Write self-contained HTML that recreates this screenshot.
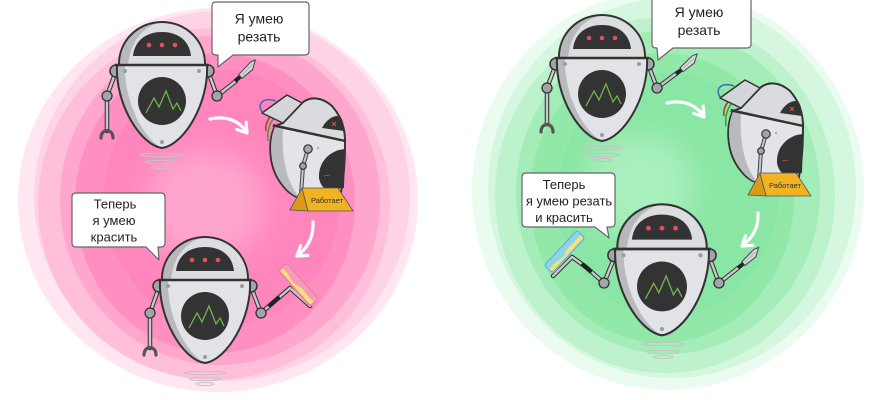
<!DOCTYPE html>
<html><head><meta charset="utf-8"><style>
html,body{margin:0;padding:0;background:#fff;}
svg{display:block;}
text{font-family:"Liberation Sans","DejaVu Sans",sans-serif;fill:#222;}
</style></head><body>
<svg width="870" height="400" viewBox="0 0 870 400" xmlns="http://www.w3.org/2000/svg">
<defs>
<filter id="blur15" x="-50%" y="-50%" width="200%" height="200%"><feGaussianBlur stdDeviation="15"/></filter>
<filter id="blur1"><feGaussianBlur stdDeviation="1"/></filter>
<g id="robot">
  <circle cx="-46" cy="6" r="6" fill="#a4a5a9" stroke="#333" stroke-width="1.5"/>
  <circle cx="46" cy="6" r="6" fill="#a4a5a9" stroke="#333" stroke-width="1.5"/>
  <path d="M-43 1 C-44 -24 -24 -43 0 -43 C24 -43 44 -24 43 1 Z" fill="#dcdde0"/>
  <path d="M-43 1 C-44 -24 -24 -43 0 -43 C-16 -40 -32 -26 -34 1 Z" fill="#b7b8bc"/>
  <path d="M-43 1 C-44 -24 -24 -43 0 -43 C24 -43 44 -24 43 1" fill="none" stroke="#333" stroke-width="2"/>
  <path d="M-29 -9 C-27 -27 -13 -33 0 -33 C13 -33 27 -27 29 -9 Z" fill="#333"/>
  <circle cx="-13" cy="-20" r="2.3" fill="#e0505e"/>
  <circle cx="0" cy="-20" r="2.3" fill="#e0505e"/>
  <circle cx="13" cy="-20" r="2.3" fill="#e0505e"/>
  <path d="M-45 0 L45 0 C47 38 22 80 0 83 C-22 80 -47 38 -45 0 Z" fill="#e2e3e6"/>
  <path d="M-45 0 L-37 0 C-38 36 -20 72 0 83 C-22 80 -47 38 -45 0 Z" fill="#b9babe"/>
  <path d="M-45 0 L45 0 C47 38 22 80 0 83 C-22 80 -47 38 -45 0 Z" fill="none" stroke="#333" stroke-width="2"/>
  <line x1="-47" y1="0" x2="47" y2="0" stroke="#333" stroke-width="2.6"/>
  <circle cx="-37" cy="6" r="2" fill="#9a9b9f"/>
  <circle cx="37" cy="6" r="2" fill="#9a9b9f"/>
  <circle cx="0" cy="77" r="2" fill="#9a9b9f"/>
  <circle cx="0" cy="36" r="24" fill="#333"/>
  <polyline points="-16,48 -8,33 -3,42 4,26 11,44 15,38 19,46" fill="none" stroke="#6fb34d" stroke-width="1.3"/>
</g>
<g id="knife">
  <line x1="0" y1="0" x2="7" y2="0" stroke="#222" stroke-width="4"/>
  <path d="M7 -2.5 L24 -4.5 L29 -3 L21 2.5 L7 2.5 Z" fill="#d6d7da" stroke="#444" stroke-width="1"/>
  <line x1="9" y1="0" x2="24" y2="-1.5" stroke="#aaa" stroke-width="0.8"/>
</g>
<g id="broken">
  <path d="M262 112 C256 102 266 97 276 101" fill="none" stroke="#4a64b8" stroke-width="1.6"/>
  <path d="M271 116 C267 120 265 126 266 131" fill="none" stroke="#c0392b" stroke-width="1.6"/>
  <path d="M274 118 C269 124 267 132 268 141" fill="none" stroke="#4a9a3a" stroke-width="1.6"/>
  <path d="M275 126 C268 140 268 165 280 182 C287 192 295 198 302 198 L340 196 C344 180 345 160 345 141 Z" fill="#e3e4e7" stroke="#333" stroke-width="2"/>
  <path d="M275 127 C269 140 269 165 281 182 C287 191 294 196 299 197 C288 184 281 160 283 129 Z" fill="#b9babe"/>
  <path d="M345 149 C330 150 318 162 319 178 C320 184 323 188 327 190 L344 188 Z" fill="#333"/>
  <line x1="324" y1="176" x2="330" y2="175" stroke="#d04848" stroke-width="0.8"/>
  <path d="M275 126 L283 123 L302 103 C310 96 322 97 332 106 C340 115 345 127 345 141 Z" fill="#dadbde" stroke="#333" stroke-width="2"/>
  <path d="M322 128 C326 120 333 115 340 116 C343 120 344 126 344 131 Z" fill="#333"/>
  <path d="M332 122 L336 126 M336 122 L332 126" stroke="#e05050" stroke-width="1"/>
  <line x1="273" y1="125" x2="346" y2="141" stroke="#333" stroke-width="2"/>
  <polygon points="262,113 287,95 302,103 283,123" fill="#d5d6d9" stroke="#333" stroke-width="1.5" stroke-linejoin="round"/>
  <polyline points="308,149 303,166 301,195" fill="none" stroke="#444" stroke-width="4" stroke-linejoin="round"/>
  <polyline points="308,149 303,166 301,195" fill="none" stroke="#c8c9cc" stroke-width="2" stroke-linejoin="round"/>
  <circle cx="308" cy="149" r="4.2" fill="#a4a5a9" stroke="#333" stroke-width="1.2"/>
  <circle cx="303" cy="166" r="3.3" fill="#a4a5a9" stroke="#333" stroke-width="1.2"/>
  <circle cx="318" cy="148" r="1" fill="#999"/>
  <polygon points="302,188 308,211 290,210" fill="#d99a17" stroke="#555" stroke-width="0.8" stroke-linejoin="round"/>
  <polygon points="302,188 338,188 353,211 308,211" fill="#f0b323" stroke="#555" stroke-width="0.8" stroke-linejoin="round"/>
  <text x="327" y="203" font-size="7.5" text-anchor="middle" style="fill:#333">Работает</text>
</g>
</defs>

<!-- pink blob -->
<g>
  <ellipse cx="218" cy="200" rx="200" ry="192" fill="#ffe6f1"/>
  <ellipse cx="222" cy="196" rx="188" ry="185" fill="#ffd3e6"/>
  <ellipse cx="214" cy="204" rx="176" ry="176" fill="#ffbfdb"/>
  <ellipse cx="220" cy="200" rx="160" ry="165" fill="#ffa6cd"/>
  <ellipse cx="215" cy="203" rx="140" ry="150" fill="#ff8fc1"/>
  <ellipse cx="222" cy="198" rx="118" ry="128" fill="#ff86bc"/>
  <ellipse cx="205" cy="205" rx="60" ry="55" fill="#ffa6ce" filter="url(#blur15)"/>
</g>
<!-- green blob -->
<g>
  <ellipse cx="668" cy="190" rx="196" ry="200" fill="#eafbf0"/>
  <ellipse cx="672" cy="188" rx="184" ry="190" fill="#d5f7df"/>
  <ellipse cx="665" cy="195" rx="170" ry="178" fill="#bdf2cc"/>
  <ellipse cx="668" cy="192" rx="152" ry="162" fill="#a4edb8"/>
  <ellipse cx="662" cy="198" rx="132" ry="145" fill="#91e8a9"/>
  <ellipse cx="668" cy="195" rx="110" ry="122" fill="#8ae6a4"/>
  <ellipse cx="640" cy="185" rx="55" ry="50" fill="#a9efbd" filter="url(#blur15)"/>
</g>

<!-- arrows -->
<g fill="none" stroke="#fff" stroke-width="3.2" stroke-linecap="round" stroke-linejoin="round">
  <path d="M210 119 Q233 114 246 131"/>
  <polyline points="236.8,129.5 247,133 246.2,122.2"/>
  <path d="M313 222 Q314 243 298 255"/>
  <polyline points="300.6,245.8 297,256 307.8,255.4"/>
  <g transform="translate(457,-16)">
    <path d="M210 119 Q233 114 246 131"/>
    <polyline points="236.8,129.5 247,133 246.2,122.2"/>
  </g>
  <path d="M758 213 Q759 233 743 245"/>
  <polyline points="745.6,235.8 742,246 752.8,245.4"/>
</g>

<!-- hover rings -->
<g fill="none" stroke="#c4c4c4" stroke-width="1">
  <ellipse cx="161" cy="155" rx="21" ry="1.6"/><ellipse cx="161" cy="162" rx="16" ry="1.6"/><ellipse cx="161" cy="167" rx="9" ry="1.5"/>
  <ellipse cx="205" cy="373" rx="21" ry="1.6"/><ellipse cx="205" cy="379" rx="16" ry="1.6"/><ellipse cx="205" cy="384" rx="9" ry="1.5"/>
  <ellipse cx="603" cy="148" rx="21" ry="1.6"/><ellipse cx="603" cy="155" rx="16" ry="1.6"/><ellipse cx="603" cy="160" rx="9" ry="1.5"/>
  <ellipse cx="663" cy="344" rx="22" ry="1.6"/><ellipse cx="663" cy="352" rx="16" ry="1.6"/><ellipse cx="663" cy="357" rx="10" ry="1.5"/>
</g>

<!-- ===== Robot L1 ===== -->
<g fill="none" stroke-linecap="round" stroke-linejoin="round">
  <g stroke="#333" stroke-width="4.5">
    <polyline points="116,71 107,96 107,131"/>
    <polyline points="208,71 217,96 236,81"/>
    <polyline points="159,287 150,313 150,348"/>
    <polyline points="251,287 261,313 290,288 310,306"/>
    <polyline points="556,64 547,88 547,124"/>
    <polyline points="648,64 657,88 677,73"/>
    <polyline points="615,256 604,283 586,267 572,257 553,276"/>
    <polyline points="709,256 719,283 738,268"/>
  </g>
  <g stroke="#c8c9cc" stroke-width="2.4">
    <polyline points="116,71 107,96 107,131"/>
    <polyline points="208,71 217,96 236,81"/>
    <polyline points="159,287 150,313 150,348"/>
    <polyline points="251,287 261,313 290,288 310,306"/>
    <polyline points="556,64 547,88 547,124"/>
    <polyline points="648,64 657,88 677,73"/>
    <polyline points="615,256 604,283 586,267 572,257 553,276"/>
    <polyline points="709,256 719,283 738,268"/>
  </g>
  <!-- grippers -->
  <g stroke="#555" stroke-width="3.2">
    <path d="M101 138 C101 128 113 128 113 138"/>
    <path d="M144 355 C144 345 156 345 156 355"/>
    <path d="M541 132 C541 122 553 122 553 132"/>
  </g>
  <!-- grips on rollers -->
  <line x1="270" y1="305" x2="278" y2="298" stroke="#222" stroke-width="4"/>
  <line x1="590" y1="271" x2="583" y2="265" stroke="#222" stroke-width="4"/>
</g>
<!-- elbows -->
<g fill="#a4a5a9" stroke="#333" stroke-width="1.3">
  <circle cx="107" cy="96" r="5"/><circle cx="217" cy="96" r="5"/>
  <circle cx="150" cy="313" r="5"/><circle cx="261" cy="313" r="5"/>
  <circle cx="547" cy="88" r="5"/><circle cx="657" cy="88" r="5"/>
  <circle cx="604" cy="283" r="5"/><circle cx="719" cy="283" r="5"/>
</g>

<!-- knives -->
<use href="#knife" transform="translate(235,81) rotate(-40)"/>
<use href="#knife" transform="translate(676,74) rotate(-37.5)"/>
<use href="#knife" transform="translate(738,268) rotate(-39)"/>

<!-- rollers -->
<g transform="translate(298,285) rotate(48.6)">
  <rect x="-24" y="-6" width="48" height="11" rx="2.5" fill="#f7e07a" stroke="#f48fb1" stroke-width="2.2"/>
  <path d="M-24 -6 L24 -6 L24 -1 C14 2 8 -3 0 1 C-8 4 -14 -2 -24 1 Z" fill="#f79bbb"/>
  <rect x="-24" y="-6" width="48" height="11" rx="2.5" fill="none" stroke="#e07a9e" stroke-width="0.8"/>
</g>
<g transform="translate(565,252) rotate(-47)">
  <rect x="-24" y="-6" width="48" height="11" rx="2.5" fill="#f7e07a" stroke="#8fd4e6" stroke-width="2.2"/>
  <path d="M-24 -6 L24 -6 L24 -1 C14 2 8 -3 0 1 C-8 4 -14 -2 -24 1 Z" fill="#8fd4e6"/>
  <rect x="-24" y="-6" width="48" height="11" rx="2.5" fill="none" stroke="#5fa9c0" stroke-width="0.8"/>
</g>

<!-- robot bodies -->
<use href="#robot" transform="translate(162,65)"/>
<use href="#robot" transform="translate(205,280)"/>
<use href="#robot" transform="translate(602,58)"/>
<use href="#robot" transform="translate(662,249) scale(1.04)"/>

<!-- broken robots -->
<use href="#broken"/>
<use href="#broken" transform="translate(458,-15)"/>

<!-- speech bubbles -->
<g fill="#fff" stroke="#666" stroke-width="1.2" stroke-linejoin="round">
  <path d="M216 2 H305 Q309 2 309 6 V51 Q309 55 305 55 H233 L218 67 L218 55 H216 Q212 55 212 51 V6 Q212 2 216 2 Z"/>
  <path d="M76 193 H161 Q165 193 165 197 V243 Q165 247 161 247 H158 L159 260 L146 247 H76 Q72 247 72 243 V197 Q72 193 76 193 Z"/>
  <path d="M652 -4 H751 V44 Q751 48 747 48 H673 L658 60 L657 48 H656 Q652 48 652 44 Z"/>
  <path d="M526 173 H611 Q615 173 615 177 V223 Q615 227 611 227 H607 L609 238 L595 227 H526 Q522 227 522 223 V177 Q522 173 526 173 Z"/>
</g>
<g font-size="14" text-anchor="middle">
  <text x="259" y="23.5">Я умею</text>
  <text x="259" y="41.5">резать</text>
  <text x="699" y="17">Я умею</text>
  <text x="699" y="35">резать</text>
</g>
<g font-size="13" text-anchor="middle">
  <text x="115" y="208.5">Теперь</text>
  <text x="114" y="225">я умею</text>
  <text x="114" y="241.5">красить</text>
  <text x="564" y="189">Теперь</text>
  <text x="569" y="205.5">я умею резать</text>
  <text x="564" y="222">и красить</text>
</g>
</svg>
</body></html>
